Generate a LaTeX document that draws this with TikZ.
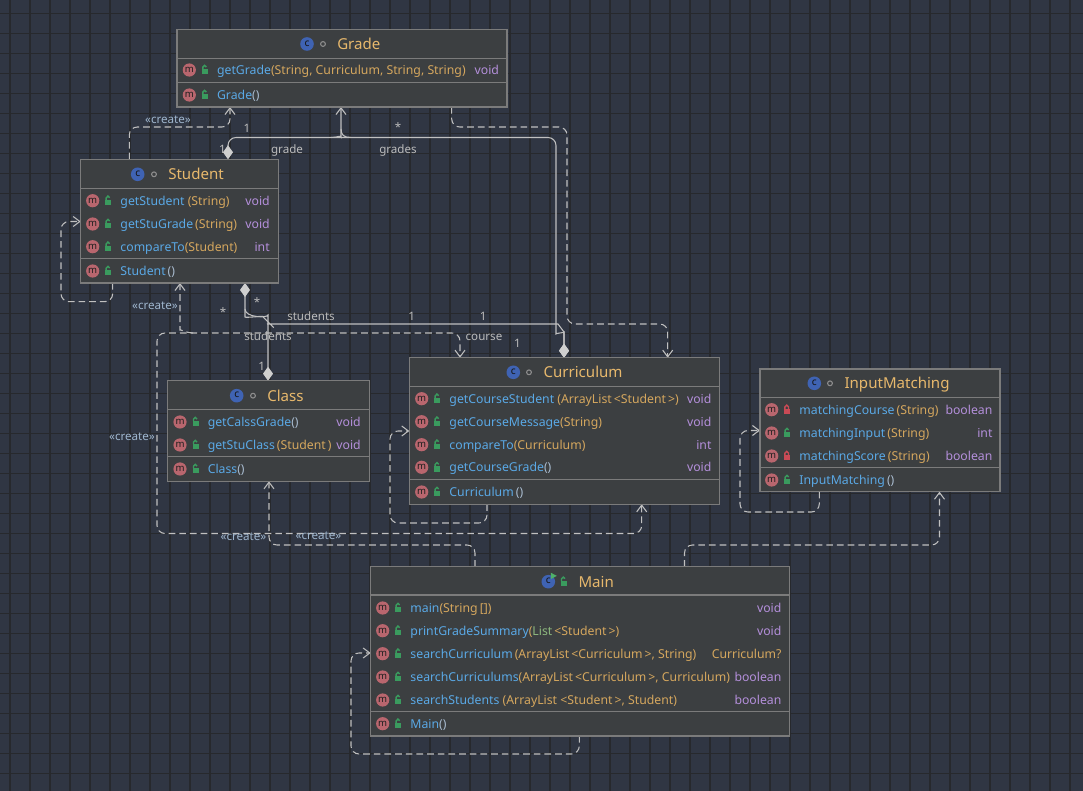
\documentclass[tikz,border=0pt]{standalone}
\usepackage{fontspec}
\setmainfont{Noto Sans}
\usetikzlibrary{arrows.meta,fit}
\definecolor{bgc}{HTML}{303643}
\definecolor{gridc}{HTML}{27292D}
\definecolor{boxfill}{HTML}{3C3F41}
\definecolor{boxline}{HTML}{7B7B7B}
\definecolor{mname}{HTML}{5AA9E6}
\definecolor{ptype}{HTML}{D5A75E}
\definecolor{rtype}{HTML}{B48FDB}
\definecolor{cname}{HTML}{E7B86C}
\definecolor{crc}{HTML}{9FB6CE}
\definecolor{labc}{HTML}{BBBBBB}
\definecolor{edgec}{HTML}{C0C0C0}
\definecolor{dmdc}{HTML}{CFCFCF}
\definecolor{micol}{HTML}{B9666E}
\definecolor{mtxt}{HTML}{1E1E1E}
\definecolor{cicol}{HTML}{3F63B3}
\definecolor{ctxt}{HTML}{151515}
\definecolor{lockg}{HTML}{3A9B5E}
\definecolor{lockr}{HTML}{C94A55}
\definecolor{runc}{HTML}{4FB06A}
\definecolor{dotc}{HTML}{8E8E8E}
\definecolor{parc}{HTML}{A9BCD0}
\definecolor{listc}{HTML}{8DB87E}
\newcommand\umlpa[1]{\textcolor{ptype}{#1}}
\newcommand\umlep{\textcolor{parc}{()}}
\newcommand\umlrow[7]{%
  \pic at (#2,#3) {micon};
  \pic at ({#2+15},#3) {#4};
  \node[mtext] (#1) at ({#2+27.5},#3) {#5};
  \node[rtext] (#1r) at (#6,#3) {#7};
}
\tikzset{
  box/.style={draw=boxline, fill=boxfill, line width=0.8pt, inner sep=0pt},
  sepline/.style={draw=boxline, line width=0.8pt},
  mtext/.style={anchor=west, inner sep=0pt, font=\fontsize{9.2}{11}\selectfont, text=mname, text height=6.6pt, text depth=0pt},
  rtext/.style={anchor=east, inner sep=0pt, font=\fontsize{9.2}{11}\selectfont, text=rtype, text height=6.6pt, text depth=0pt},
  ctitle/.style={anchor=west, inner sep=0pt, font=\fontsize{11.3}{13}\selectfont, text=cname, text height=8pt, text depth=0pt},
  lab/.style={inner sep=0pt, font=\fontsize{8.7}{10}\selectfont, text=labc, text height=6.2pt, text depth=0pt},
  starlab/.style={inner sep=0pt, font=\fontsize{8.7}{10}\selectfont, text=labc},
  crlab/.style={inner sep=0pt, font=\fontsize{8.7}{10}\selectfont, text=crc, text height=6.2pt, text depth=0pt},
  assoc/.style={draw=edgec, line width=0.8pt, rounded corners=6pt},
  dep/.style={draw=edgec, line width=0.8pt, rounded corners=6pt, dash pattern=on 5pt off 3pt},
  dmd/.tip={Diamond[length=10.5pt,width=7.5pt,color=dmdc]},
  >={Straight Barb[length=5pt,width=7.5pt]},
  gridline/.style={draw=gridc, line width=0.9pt},
  micon/.pic={\fill[micol] (0,0) circle[radius=6.6];
    \node[inner sep=0pt, text=mtxt, font=\fontsize{7.2}{8}\selectfont\bfseries] (-m) at (0,-0.3) {m};},
  cicon/.pic={\fill[cicol] (0,0) circle[radius=6.8];
    \node[inner sep=0pt, text=ctxt, font=\fontsize{7.6}{8}\selectfont\bfseries] (-c) at (0,-0.5) {c};},
  cmain/.pic={\fill[cicol] (0,0) circle[radius=6.8];
    \node[inner sep=0pt, text=ctxt, font=\fontsize{7.6}{8}\selectfont\bfseries] (-c) at (0,-0.5) {c};
    \fill[runc] (2.5,-9) -- (8.5,-5.8) -- (2.5,-2.6) -- cycle;},
  cdot/.pic={\draw[dotc, line width=0.8pt] (0,0) circle[radius=2.4];},
  lockpub/.pic={\fill[lockg] (-2.5,-0.8) rectangle (3.5,4.5);
    \draw[lockg, line width=1.1pt] (-1.5,-0.8) -- (-1.5,-2.8) .. controls (-1.5,-5.2) and (2,-5.2) .. (2,-3);},
  lockpriv/.pic={\fill[lockr] (-3,-0.8) rectangle (3,4.5);
    \draw[lockr, line width=1.1pt] (-1.8,-0.8) -- (-1.8,-2.8) .. controls (-1.8,-5.2) and (1.8,-5.2) .. (1.8,-2.8) -- (1.8,-0.8);},
}
\begin{document}
\begin{tikzpicture}[x=0.75pt,y=-0.75pt]
\fill[bgc] (0,0) rectangle (1083,791);
\useasboundingbox (0,0) rectangle (1083,791);
\foreach \i in {0,...,53} \draw[gridline] (10+20*\i,0) -- (10+20*\i,791);
\foreach \j in {0,...,38} \draw[gridline] (0,13.5+20*\j) -- (1083,13.5+20*\j);

% ---------- connector end points on the boxes ----------
\coordinate (gB1) at (230,107);
\coordinate (gB2) at (341,107);
\coordinate (gB3) at (451.7,107);
\coordinate (sT1) at (129.3,159.3);
\coordinate (sT2) at (228,159.3);
\coordinate (sB1) at (112.7,283);
\coordinate (sB2) at (180,283);
\coordinate (sB3) at (245,283);
\coordinate (sL) at (80.7,221.5);
\coordinate (cT) at (268,380.7);
\coordinate (cB) at (269,481.3);
\coordinate (kT1) at (460,357.7);
\coordinate (kT2) at (564,357.7);
\coordinate (kT3) at (667.7,357.7);
\coordinate (kB1) at (487,504.3);
\coordinate (kB2) at (641.7,504.3);
\coordinate (kL) at (409.3,431);
\coordinate (iB1) at (819.3,491.7);
\coordinate (iB2) at (939.5,491.7);
\coordinate (iL) at (760,430.5);
\coordinate (mT1) at (475,566.7);
\coordinate (mT2) at (684.5,566.7);
\coordinate (mB) at (579.3,736);
\coordinate (mL) at (370.7,653);

% ---------- connectors ----------
\draw[dep,->] (sT1) -- (129.3,127) -- (230,127) -- (gB1);
\draw[dep,->] (sB1) -- (112.7,301.7) -- (61,301.7) -- (61,221.5) -- (sL);
\draw[dep,->] (gB3) -- (451.7,127) -- (567,127) -- (567,324) -- (667.7,324) -- (kT3);
\draw[assoc,{dmd}-{dmd}] (sT2) -- (228,137.5) -- (556,137.5) -- (556,326) .. controls (556,333) and (564,333) .. (564,340) -- (kT2);
\draw[assoc,->] (331,137.5) .. controls (338,137.5) and (341,135) .. (341,129) -- (gB2);
\draw[assoc] (351,137.5) .. controls (344,137.5) and (341,135) .. (341,129);
\draw[assoc,{dmd}-{dmd}] (sB3) -- (245,309) .. controls (245,318) and (262,316) .. (268,322) .. controls (269.5,323.5) and (271,324) .. (275,324) -- (550,324) .. controls (558,324) and (564,332) .. (564,340) -- (kT2);
\draw[assoc,{dmd}-] (cT) -- (268,323) .. controls (268,318) and (245,318) .. (245,309);
\draw[dep,->] (193,333) .. controls (186,333) and (180,329) .. (180,322) -- (sB2);
\draw[dep,<->] (kB2) -- (641.7,533.5) -- (157,533.5) -- (157,333) -- (460,333) -- (kT1);
\draw[dep,->] (mT1) -- (475,545) -- (269,545) -- (cB);
\draw[dep,->] (mT2) -- (684.5,545) -- (939.5,545) -- (iB2);
\draw[dep,->] (kB1) -- (487,523) -- (390,523) -- (390,431) -- (kL);
\draw[dep,->] (iB1) -- (819.3,512) -- (740,512) -- (740,430.5) -- (iL);
\draw[dep,->] (mB) -- (579.3,754) -- (351,754) -- (351,653) -- (mL);

% ---------- connector labels ----------
\node[lab] (l1) at (247,128) {1};
\node[lab] (l2) at (222.5,149) {1};
\node[lab] (l3) at (287,149) {grade};
\node[starlab] (l4) at (398,127) {*};
\node[lab] (l5) at (398,149) {grades};
\node[starlab] (l6) at (257,302) {*};
\node[starlab] (l7) at (223,312) {*};
\node[lab] (l8) at (311,316) {students};
\node[lab] (l9) at (411.7,316) {1};
\node[lab] (l10) at (483.3,316) {1};
\node[lab] (l11) at (484,336) {course};
\node[lab] (l12) at (517.5,343) {1};
\node[lab] (l13) at (268,336) {students};
\node[lab] (l14) at (261.7,366) {1};
\node[crlab] (c1) at (168,119) {«create»};
\node[crlab] (c2) at (155,305) {«create»};
\node[crlab] (c3) at (132,436.5) {«create»};
\node[crlab] (c4) at (243.5,536.7) {«create»};
\node[crlab] (c5) at (318.5,535.7) {«create»};

% ---------- Grade ----------
\node[box, fit={(177,29.5) (507,107)}] (grade) {};
\draw[sepline] (177,58.3) -- (507,58.3) (177,82.3) -- (507,82.3);
\pic at (307,44) {cicon}; \pic at (323,44) {cdot};
\node[ctitle] (gradeT) at (337,44) {Grade};
\umlrow{gr1}{189.3}{70}{lockpub}{getGrade\umlpa{(String, Curriculum, String, String)}}{499.3}{void}
\umlrow{gr2}{189.3}{95}{lockpub}{Grade\umlep}{499.3}{}

% ---------- Student ----------
\node[box, fit={(80.7,159.3) (278.3,283)}] (student) {};
\draw[sepline] (80.7,188.3) -- (278.3,188.3) (80.7,258.3) -- (278.3,258.3);
\pic at (137.7,174.3) {cicon}; \pic at (154,174.3) {cdot};
\node[ctitle] (studentT) at (168,174.3) {Student};
\umlrow{st1}{92.7}{200.7}{lockpub}{getStudent \umlpa{(String)}}{270}{void}
\umlrow{st2}{92.7}{224}{lockpub}{getStuGrade\,\umlpa{(String)}}{270}{void}
\umlrow{st3}{92.7}{246.7}{lockpub}{compareTo\umlpa{(Student)}}{270}{int}
\umlrow{st4}{92.7}{271}{lockpub}{Student\,\umlep}{270}{}

% ---------- Class ----------
\node[box, fit={(167.7,380.7) (369.3,481.3)}] (class) {};
\draw[sepline] (167.7,409.7) -- (369.3,409.7) (167.7,456.3) -- (369.3,456.3);
\pic at (236.7,395.7) {cicon}; \pic at (253,395.7) {cdot};
\node[ctitle] (classT) at (267,395.7) {Class};
\umlrow{cl1}{180}{422}{lockpub}{getCalssGrade\umlep}{361}{void}
\umlrow{cl2}{180}{445}{lockpub}{getStuClass\,\umlpa{(Student\,)}}{361}{void}
\umlrow{cl3}{180}{469}{lockpub}{Class\umlep}{361}{}

% ---------- Curriculum ----------
\node[box, fit={(409.3,357.7) (719.3,504.3)}] (curriculum) {};
\draw[sepline] (409.3,386.7) -- (719.3,386.7) (409.3,479.3) -- (719.3,479.3);
\pic at (513.3,372.3) {cicon}; \pic at (529,372.3) {cdot};
\node[ctitle] (curriculumT) at (543.3,372.3) {Curriculum};
\umlrow{cu1}{421.7}{398.7}{lockpub}{getCourseStudent \umlpa{(ArrayList\,<Student\,>)}}{711.7}{void}
\umlrow{cu2}{421.7}{421.7}{lockpub}{getCourseMessage\umlpa{(String)}}{711.7}{void}
\umlrow{cu3}{421.7}{444.7}{lockpub}{compareTo\umlpa{(Curriculum)}}{711.7}{int}
\umlrow{cu4}{421.7}{467.3}{lockpub}{getCourseGrade\umlep}{711.7}{void}
\umlrow{cu5}{421.7}{492}{lockpub}{Curriculum\,\umlep}{711.7}{}

% ---------- InputMatching ----------
\node[box, fit={(760,369) (1000,491.7)}] (input) {};
\draw[sepline] (760,397.3) -- (1000,397.3) (760,467.7) -- (1000,467.7);
\pic at (814.3,383.3) {cicon}; \pic at (830,383.3) {cdot};
\node[ctitle] (inputT) at (844.3,383.3) {InputMatching};
\umlrow{im1}{771.7}{409.7}{lockpriv}{matchingCourse\,\umlpa{(String)}}{992.7}{boolean}
\umlrow{im2}{771.7}{433}{lockpub}{matchingInput\,\umlpa{(String)}}{992.7}{int}
\umlrow{im3}{771.7}{456}{lockpriv}{matchingScore\,\umlpa{(String)}}{992.7}{boolean}
\umlrow{im4}{771.7}{480}{lockpub}{InputMatching\,\umlep}{992.7}{}

% ---------- Main ----------
\node[box, fit={(370.7,566.7) (789.3,736)}] (main) {};
\draw[sepline] (370.7,595) -- (789.3,595) (370.7,711.7) -- (789.3,711.7);
\pic at (548.3,581.7) {cmain}; \pic at (563,581.7) {lockpub};
\node[ctitle] (mainT) at (578.3,581.7) {Main};
\umlrow{ma1}{382.7}{608}{lockpub}{main\umlpa{(String\,[])}}{781.7}{void}
\umlrow{ma2}{382.7}{630.7}{lockpub}{printGradeSummary\umlpa{(}\textcolor{listc}{List}\umlpa{\,<Student\,>)}}{781.7}{void}
\umlrow{ma3}{382.7}{653.7}{lockpub}{searchCurriculum\,\umlpa{(ArrayList\,<Curriculum\,>, String)}}{781.7}{\textcolor{ptype}{Curriculum?}}
\umlrow{ma4}{382.7}{677}{lockpub}{searchCurriculums\umlpa{(ArrayList\,<Curriculum\,>, Curriculum)}}{781.7}{boolean}
\umlrow{ma5}{382.7}{700}{lockpub}{searchStudents \umlpa{(ArrayList <Student\,>, Student)}}{781.7}{boolean}
\umlrow{ma6}{382.7}{723.7}{lockpub}{Main\umlep}{781.7}{}
\end{tikzpicture}
\end{document}
